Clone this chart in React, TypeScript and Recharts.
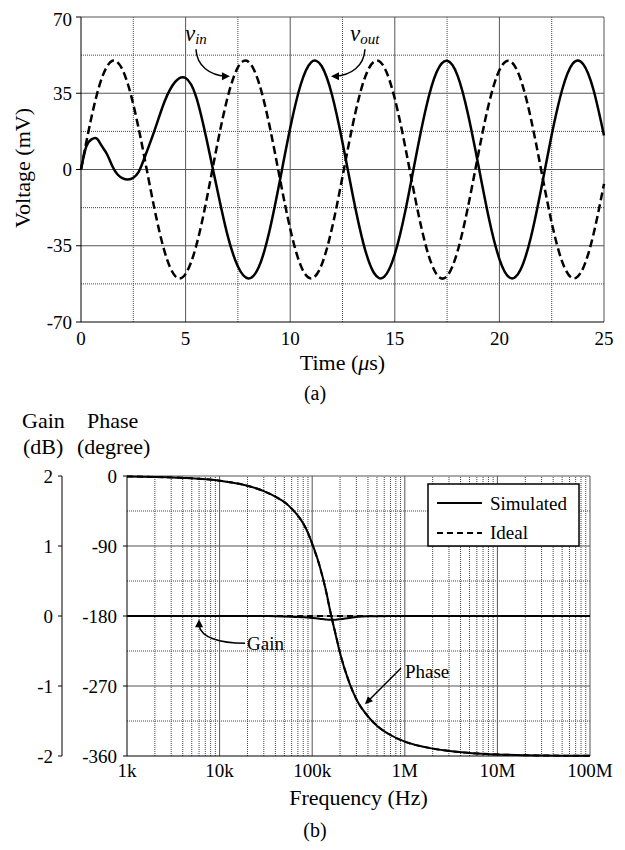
import React from "react";
import { LineChart, Line, XAxis, YAxis, ReferenceLine, ReferenceDot } from "recharts";

const FONT = "'Liberation Serif', 'Times New Roman', serif";

// (a) transient: input / output voltage vs time
const timeUs = [
  0, 0.25, 0.5, 0.75, 1, 1.25, 1.5, 1.75, 2, 2.25, 2.5, 2.75, 3, 3.5, 4, 4.5, 5, 5.5, 6, 6.5, 7, 7.5, 8,
  8.5, 9, 9.5, 10, 10.5, 11, 11.5, 12, 12.5, 13, 13.5, 14, 14.5, 15, 15.5, 16, 16.5, 17, 17.5, 18,
  18.5, 19, 19.5, 20, 20.5, 21, 21.5, 22, 22.5, 23, 23.5, 24, 24.5, 25,
];
const vIn = [
  0, 12.4, 24.0, 34.1, 42.1, 47.4, 49.9, 49.2, 45.5, 38.9, 29.9, 19.1, 7.1, -17.5, -37.8, -48.9, -47.9,
  -35.3, -14.0, 10.8, 32.8, 46.9, 49.5, 39.9, 20.6, -3.8, -27.2, -44.0, -50.0, -43.8, -26.8, -3.3, 21.0,
  40.2, 49.5, 46.8, 32.5, 10.3, -14.4, -35.6, -48.1, -48.9, -37.5, -17.1, 7.5, 30.3, 45.6, 49.8, 41.8,
  23.6, -0.4, -24.4, -42.3, -49.9, -45.3, -29.6, -6.6,
];
const vOut = [
  0, 10.5, 13.8, 14.2, 10.7, 6.9, 1.5, -2.3, -4.1, -4.6, -3.8, -1.2, 4.5, 17.5, 31.3, 40.2, 42.0, 33.5,
  14.0, -8.6, -30.0, -44.5, -50.0, -44.8, -28.6, -5.4, 19.0, 38.9, 49.2, 47.5, 34.2, 12.4, -12.3, -34.0,
  -47.4, -49.2, -38.9, -19.2, 5.4, 28.6, 44.7, 49.9, 43.1, 25.4, 1.7, -22.5, -41.1, -49.7, -46.2, -31.3,
  -8.7, 15.9, 36.6, 48.5, 48.4, 36.5, 15.6,
];
const voltTicks = [-70, -35, 0, 35, 70];
const timeTicks = [0, 5, 10, 15, 20, 25];
const voltMajor = [35, 0, -35, 70];
const voltMinor = [52.5, 17.5, -17.5, -52.5];
const timeMajor = [5, 10, 15, 20, 25];
const timeMinor = [2.5, 7.5, 12.5, 17.5, 22.5];

// (b) frequency response: gain and phase
const freqHz = [
  1e3, 2e3, 5e3, 1e4, 2e4, 3e4, 4e4, 5e4, 6e4, 7e4, 8e4, 9e4, 1e5, 1.2e5, 1.4e5, 1.6e5, 1.8e5, 2e5,
  2.5e5, 3e5, 4e5, 5e5, 7e5, 1e6, 2e6, 5e6, 1e7, 2e7, 5e7, 1e8,
];
const gainSimDb = [
  0, 0, 0, 0, 0, -0.001, -0.003, -0.006, -0.01, -0.014, -0.018, -0.022, -0.027, -0.038, -0.05, -0.055,
  -0.052, -0.045, -0.028, -0.015, -0.005, -0.002, 0, 0, 0, 0, 0, 0, 0, 0,
];
const gainIdealDb = [
  0, 0, 0, 0, 0, 0, 0, 0, 0, 0, 0, 0, 0, 0, 0, 0, 0, 0, 0, 0, 0, 0, 0, 0, 0, 0, 0, 0, 0, 0,
];
const phaseSimDeg = [
  -0.6, -1.2, -3, -6, -12.5, -19.5, -26.5, -33.5, -42, -51, -61, -73, -87, -115, -146, -179, -205, -228,
  -265, -287, -309, -321, -333, -341.5, -350.5, -356, -358, -359, -359.6, -359.8,
];
const phaseIdealDeg = [
  -0.6, -1.2, -3, -6, -12.5, -19.5, -26.5, -33.5, -42, -51, -61, -73, -87.5, -115.5, -146.5, -179,
  -204.5, -227.5, -264.5, -287, -309, -321, -333, -341.5, -350.5, -356, -358, -359, -359.6, -359.8,
];
const gainTicks = [-2, -1, 0, 1, 2];
const phaseTicks = [-360, -270, -180, -90, 0];
const freqTicks = [1e3, 1e4, 1e5, 1e6, 1e7, 1e8];
const freqLabels = ["1k", "10k", "100k", "1M", "10M", "100M"];
const phaseMajor = [0, -90, -180, -270];
const phaseMinor = [-45, -135, -225, -315];
const decades = [1e3, 1e4, 1e5, 1e6, 1e7];
const minorSteps = [2, 3, 4, 5, 6, 7, 8, 9];

const timeRows = timeUs.map((t, i) => ({ t, vin: vIn[i], vout: vOut[i] }));
const freqRows = freqHz.map((f, i) => ({
  f,
  gainSim: gainSimDb[i],
  gainIdeal: gainIdealDb[i],
  phaseSim: phaseSimDeg[i],
  phaseIdeal: phaseIdealDeg[i],
}));
const freqMinor = decades.flatMap((d) => minorSteps.map((m) => m * d));

const tickStyle = { fill: "#000", fontSize: 19, fontFamily: FONT };
const MAJOR = "#555";
const DOT = "1 1";
// axis ids: "a" sits next to the plot, "b" further left
const PH = "a";
const GN = "b";

const VinNote = (p: any) => {
  const { cx, cy } = p;
  return (
    <g>
      <path
        d={`M${cx - 34},${cy - 27} C${cx - 33},${cy - 10} ${cx - 20},${cy - 1} ${cx - 4},${cy}`}
        fill="none" stroke="#000" strokeWidth={1.5}
      />
      <polygon points={`${cx},${cy} ${cx - 8},${cy - 4} ${cx - 8},${cy + 4}`} fill="#000" />
      <text x={cx - 45} y={cy - 35} fontFamily={FONT} fontSize={23} fontStyle="italic">
        v<tspan fontSize={15} dy={3}>in</tspan>
      </text>
    </g>
  );
};

const VoutNote = (p: any) => {
  const { cx, cy } = p;
  return (
    <g>
      <path
        d={`M${cx + 34},${cy - 27} C${cx + 33},${cy - 10} ${cx + 20},${cy - 1} ${cx + 4},${cy}`}
        fill="none" stroke="#000" strokeWidth={1.5}
      />
      <polygon points={`${cx},${cy} ${cx + 8},${cy - 4} ${cx + 8},${cy + 4}`} fill="#000" />
      <text x={cx + 19} y={cy - 35} fontFamily={FONT} fontSize={23} fontStyle="italic">
        v<tspan fontSize={15} dy={3}>out</tspan>
      </text>
    </g>
  );
};

const GainNote = (p: any) => {
  const { cx, cy } = p;
  return (
    <g>
      <path
        d={`M${cx + 46},${cy + 24} C${cx + 20},${cy + 24} ${cx + 2},${cy + 18} ${cx},${cy + 6}`}
        fill="none" stroke="#000" strokeWidth={1.5}
      />
      <polygon points={`${cx},${cy} ${cx - 4},${cy + 8} ${cx + 4},${cy + 8}`} fill="#000" />
      <text x={cx + 48} y={cy + 31} fontFamily={FONT} fontSize={19}>Gain</text>
    </g>
  );
};

const PhaseNote = (p: any) => {
  const { cx, cy } = p;
  return (
    <g>
      <line x1={cx + 36} y1={cy - 36} x2={cx + 4} y2={cy - 4} stroke="#000" strokeWidth={1.5} />
      <polygon points={`${cx},${cy} ${cx + 8},${cy - 3} ${cx + 3},${cy - 8}`} fill="#000" />
      <text x={cx + 40} y={cy - 26} fontFamily={FONT} fontSize={19}>Phase</text>
    </g>
  );
};

const TransientChart = () => (
  <LineChart width={609} height={372} data={timeRows} margin={{ top: 9, right: 13, bottom: 0, left: 0 }}>
    {timeMinor.map((x) => (
      <ReferenceLine key={"tv" + x} x={x} stroke="#444" strokeDasharray={DOT} />
    ))}
    {voltMinor.map((y) => (
      <ReferenceLine key={"th" + y} y={y} stroke="#444" strokeDasharray={DOT} />
    ))}
    {timeMajor.map((x) => (
      <ReferenceLine key={"tV" + x} x={x} stroke={MAJOR} />
    ))}
    {voltMajor.map((y) => (
      <ReferenceLine key={"tH" + y} y={y} stroke={MAJOR} />
    ))}
    <XAxis
      dataKey="t" type="number" domain={[0, 25]} ticks={timeTicks} height={58}
      tickLine={false} tickSize={6} tickMargin={4} stroke="#000" tick={tickStyle}
    />
    <YAxis
      type="number" domain={[-70, 70]} ticks={voltTicks} width={73}
      tickSize={5} tickMargin={4} stroke="#000" tick={tickStyle}
    />
    <Line dataKey="vin" type="natural" stroke="#000" strokeWidth={2.5} strokeDasharray="8 4" dot={false} isAnimationActive={false} />
    <Line dataKey="vout" type="natural" stroke="#000" strokeWidth={2.5} dot={false} isAnimationActive={false} />
    <ReferenceDot x={7.12} y={42.8} r={0} shape={VinNote} />
    <ReferenceDot x={11.95} y={42.8} r={0} shape={VoutNote} />
  </LineChart>
);

const BodeChart = () => (
  <LineChart width={609} height={394} data={freqRows} margin={{ top: 28, right: 27, bottom: 56, left: 0 }}>
    {freqMinor.map((x) => (
      <ReferenceLine key={"fv" + x} yAxisId={PH} x={x} stroke="#444" strokeDasharray={DOT} />
    ))}
    {phaseMinor.map((y) => (
      <ReferenceLine key={"ph" + y} yAxisId={PH} y={y} stroke="#444" strokeDasharray={DOT} />
    ))}
    {freqTicks.slice(1).map((x) => (
      <ReferenceLine key={"fV" + x} yAxisId={PH} x={x} stroke={MAJOR} />
    ))}
    {phaseMajor.map((y) => (
      <ReferenceLine key={"pH" + y} yAxisId={PH} y={y} stroke={MAJOR} />
    ))}
    <XAxis
      dataKey="f" type="number" scale="log" domain={[1e3, 1e8]} ticks={freqTicks} interval={0}
      tickFormatter={(v: number) => freqLabels[freqTicks.indexOf(v)]}
      height={30} tickLine={false} tickSize={4} tickMargin={4} stroke="#000" tick={tickStyle}
    />
    <YAxis
      yAxisId={PH} orientation="left" type="number" domain={[-360, 0]} ticks={phaseTicks}
      width={65} tickSize={4} tickMargin={6} stroke="#000" tick={tickStyle}
    />
    <YAxis
      yAxisId={GN} orientation="left" type="number" domain={[-2, 2]} ticks={gainTicks}
      width={54} tickSize={4} tickMargin={5} stroke="#000" tick={tickStyle}
    />
    <Line yAxisId={GN} dataKey="gainIdeal" type="monotone" stroke="#000" strokeWidth={2} strokeDasharray="6 4" dot={false} isAnimationActive={false} />
    <Line yAxisId={PH} dataKey="phaseIdeal" type="monotone" stroke="#000" strokeWidth={2} strokeDasharray="6 4" dot={false} isAnimationActive={false} />
    <Line yAxisId={GN} dataKey="gainSim" type="monotone" stroke="#000" strokeWidth={2} dot={false} isAnimationActive={false} />
    <Line yAxisId={PH} dataKey="phaseSim" type="monotone" stroke="#000" strokeWidth={2} dot={false} isAnimationActive={false} />
    <ReferenceDot yAxisId={PH} x={6000} y={-184.2} r={0} shape={GainNote} />
    <ReferenceDot yAxisId={PH} x={371000} y={-293.5} r={0} shape={PhaseNote} />
  </LineChart>
);

export default function App() {
  return (
    <div style={{ position: "relative", width: 609, height: 834, fontFamily: FONT }}>
      <div style={{ position: "absolute", left: 0, top: 0 }}>
        <TransientChart />
      </div>
      <div style={{ position: "absolute", left: 0, top: 440 }}>
        <BodeChart />
      </div>
      <svg
        width={609} height={834} fontFamily={FONT}
        style={{ position: "absolute", left: 0, top: 0, pointerEvents: "none" }}
      >
        <text x={22} y={160} fontSize={22} textAnchor="middle" transform="rotate(-90 22 160)">
          Voltage (mV)
        </text>
        <text x={334.5} y={362} fontSize={22} textAnchor="middle">
          Time (<tspan fontStyle="italic">μ</tspan>s)
        </text>
        <text x={307} y={392} fontSize={20} textAnchor="middle">(a)</text>
        <text x={14} y={420} fontSize={22}>Gain</text>
        <text x={79} y={420} fontSize={22}>Phase</text>
        <text x={15} y={446} fontSize={22}>(dB)</text>
        <text x={69} y={446} fontSize={22}>(degree)</text>
        <rect x={420} y={476} width={151} height={62} fill="#fff" stroke="#000" strokeWidth={1.5} />
        <line x1={429} y1={495} x2={474} y2={495} stroke="#000" strokeWidth={2} />
        <line x1={429} y1={525} x2={474} y2={525} stroke="#000" strokeWidth={2} strokeDasharray="6 4" />
        <text x={482} y={502} fontSize={19}>Simulated</text>
        <text x={482} y={531} fontSize={19}>Ideal</text>
        <text x={350.5} y={797} fontSize={22} textAnchor="middle">Frequency (Hz)</text>
        <text x={307} y={829} fontSize={20} textAnchor="middle">(b)</text>
      </svg>
    </div>
  );
}
